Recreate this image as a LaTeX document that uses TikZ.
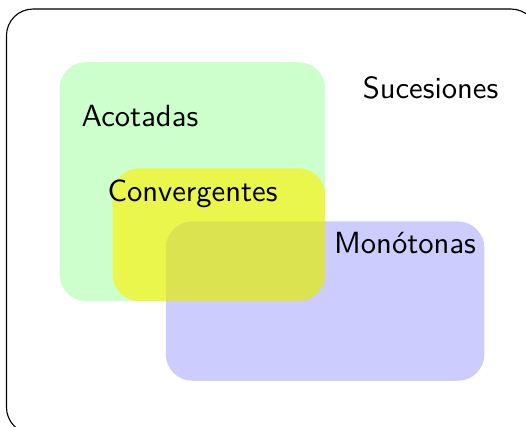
\documentclass[tikz,border=0pt]{standalone}
\usepackage{fontspec}
\newfontfamily\lmsten{lmsans10-regular.otf}
\begin{document}
\begin{tikzpicture}[
  region/.style={rounded corners=0.5cm},
  lbl/.style={anchor=base, inner sep=0pt, font=\lmsten\fontsize{16.4}{20}\selectfont}
]
\useasboundingbox (-0.122,0.147) rectangle (9.783,8.17);
\draw[region, line width=0.6pt] (0,0) rectangle (10,8);
\fill[region, green!20] (1,2.5) rectangle (6,7);
\fill[region, blue, opacity=0.2] (3,1) rectangle (9,4);
\fill[region, yellow, opacity=0.62] (2,2.5) rectangle (6,5);
\node[lbl] (acot) at (2.514,5.797) {Acotadas};
\node[lbl] (conv) at (3.503,4.371) {Convergentes};
\node[lbl] (suc) at (7.985,6.318) {Sucesiones};
\node[lbl] (mono) at (7.505,3.399) {Monótonas};
\end{tikzpicture}
\end{document}
